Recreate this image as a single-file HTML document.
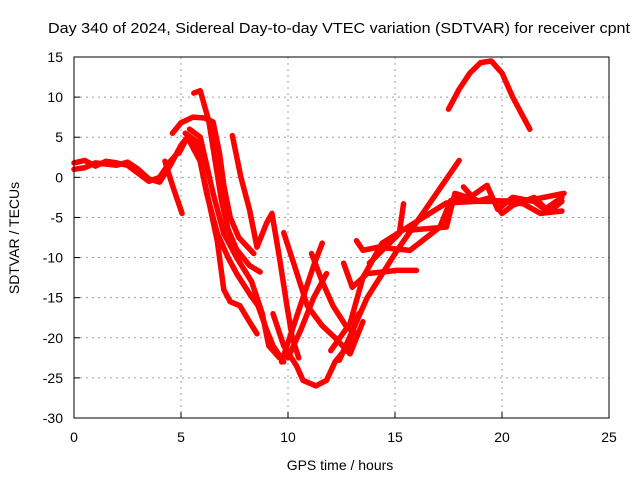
<!DOCTYPE html>
<html><head><meta charset="utf-8"><style>
body{margin:0;background:#fff}
svg{display:block;font-family:"Liberation Sans",sans-serif}
</style></head><body>
<svg id="chart" width="640" height="480" viewBox="0 0 640 480">
<rect width="640" height="480" fill="#fff"/>
<text x="339" y="33" font-size="15" text-anchor="middle" textLength="582" lengthAdjust="spacingAndGlyphs">Day 340 of 2024, Sidereal Day-to-day VTEC variation (SDTVAR) for receiver cpnt</text>
<g id="grid"></g>
<g id="series"></g>
<rect x="74" y="57" width="535" height="361" fill="none" stroke="#000" stroke-width="1"/>
<g id="ticks"></g>
<text x="340" y="470" font-size="14" text-anchor="middle">GPS time / hours</text>
<text transform="translate(19,238) rotate(-90)" font-size="14" text-anchor="middle">SDTVAR / TECUs</text>
</svg>
<script>
const xTicks=[0,5,10,15,20,25];
const yTicks=[15,10,5,0,-5,-10,-15,-20,-25,-30];
const s1=[[0,1.8],[0.5,2.1],[1,1.4],[1.5,2],[2,1.8],[2.5,1.5],[3,0.5],[3.5,-0.5],[4,0],[4.5,2],[5,3.5]];
const s2=[[0,1],[0.5,1.2],[1,1.8],[2,1.5],[2.5,1.9],[3,1],[3.5,-0.2],[4,-0.6],[4.5,1.5],[5,4],[5.3,5]];
const s3=[[4.25,2],[4.6,-1],[5.05,-4.5]];
const s4=[[4.6,5.5],[5,6.8],[5.56,7.5],[6.1,7.4],[6.5,6.9],[6.8,3],[7,-1],[7.3,-5],[7.7,-7.5],[8.4,-9.5]];
const s5=[[5.6,10.5],[5.9,10.8],[6.3,7],[6.6,2],[6.9,-3],[7.2,-6.5],[7.6,-9],[8.2,-11],[8.7,-11.8]];
const s6=[[4.9,3],[5.3,5],[5.9,2],[6.3,-3],[6.7,-8],[7,-14],[7.3,-15.5],[7.75,-16],[8.2,-18],[8.55,-19.5]];
const s7=[[5.2,5.5],[5.7,4.5],[6.2,-2],[6.7,-7],[7.2,-10],[7.6,-12],[8.2,-14.5],[8.6,-16],[9,-19],[9.3,-21],[9.8,-23]];
const s8=[[5.4,6],[5.9,5],[6.5,-2],[7,-7],[7.6,-10],[8.3,-13],[8.8,-17],[9.1,-21],[9.6,-22.5]];
const s9=[[7.4,5.2],[7.8,0],[8.2,-4],[8.55,-8.7],[9,-5.7],[9.25,-4.5],[9.6,-10],[9.95,-16],[10.2,-20],[10.5,-22.5]];
const s10=[[9.8,-6.9],[10.3,-11],[10.9,-16],[11.6,-18.5],[12.2,-20],[12.9,-22],[13.5,-18]];
const s11=[[9.7,-23],[10.2,-19],[10.7,-15],[11.2,-11],[11.6,-8.2]];
const s12=[[11.1,-9.5],[11.6,-13],[12.1,-16],[12.75,-18.7],[13.2,-19.5]];
const s13=[[9.3,-17],[9.8,-21],[10.4,-23.5],[10.7,-25.3],[11.3,-26],[11.8,-25.3],[12.2,-23],[12.8,-21],[13.3,-17]];
const s14=[[10,-22.5],[10.6,-19],[11.2,-15],[11.8,-12]];
const s15=[[12.4,-22.8],[13.7,-15],[15.1,-9.1],[16.5,-3.7],[18,2.1]];
const s16=[[12,-21.6],[12.9,-18.2],[13.5,-12.5],[14.4,-8.2],[15.6,-6.2],[17.4,-3.2],[19.4,-2.9],[21,-3],[22.9,-2]];
const s17=[[13.2,-7.9],[13.5,-9.1],[14.2,-8.7],[15.7,-9.1],[17.1,-6.2],[17.6,-2.9],[18.5,-2.5],[19.3,-1],[19.8,-4],[20.5,-2.5],[21.5,-3],[22,-4],[22.8,-2.5]];
const s18=[[12.6,-10.7],[13,-13.7],[13.7,-12],[15.1,-11.6],[16,-11.6]];
const s19=[[13.8,-10.7],[15.2,-7],[15.4,-3.3]];
const s20=[[15.6,-6.6],[17.4,-6.2],[17.8,-2],[19,-3],[20,-3],[21,-3.3],[21.8,-4.5],[22.8,-4.2]];
const s21=[[18.2,-1.2],[18.8,-3],[19.5,-2.5],[20,-4.5],[20.5,-3.5],[21.5,-2.5],[22.2,-4.3],[22.8,-3]];
const s22=[[17.5,8.5],[18,11],[18.5,13],[19,14.3],[19.5,14.5],[20,13],[20.5,10],[21,7.5],[21.3,6]];
const allSeries=[s1,s2,s3,s4,s5,s6,s7,s8,s9,s10,s11,s12,s13,s14,s15,s16,s17,s18,s19,s20,s21,s22];
const NS="http://www.w3.org/2000/svg";
function xs(h){return 74+(h-0)*(535/25);}
function ys(v){return 57+(15-v)*(361/45);}
const grid=document.getElementById('grid'),ticks=document.getElementById('ticks'),ser=document.getElementById('series');
function mk(tag,attrs,parent){const e=document.createElementNS(NS,tag);for(const k in attrs)e.setAttribute(k,attrs[k]);parent.appendChild(e);return e;}
xTicks.forEach(t=>{const x=xs(t);
 if(t>0&&t<25){const g=mk('line',{x1:x,x2:x,y1:57,y2:418,stroke:'#a0a0a0','stroke-dasharray':'2,4'},grid);
 
 }
 const tl=mk('line',{x1:x,x2:x,y1:418,y2:412,stroke:'#000'},ticks);
 
 
 const tx=mk('text',{x:x,y:442,'font-size':14,'text-anchor':'middle'},ticks);tx.textContent=t;
 
 });
yTicks.forEach(t=>{const y=ys(t);
 if(t<15&&t>-30){const g=mk('line',{x1:74,x2:609,y1:y,y2:y,stroke:'#a0a0a0','stroke-dasharray':'2,4'},grid);
 
 }
 const tl=mk('line',{x1:74,x2:80,y1:y,y2:y,stroke:'#000'},ticks);
 
 
 const tx=mk('text',{x:63,y:y+5,'font-size':14,'text-anchor':'end'},ticks);tx.textContent=t;
 
 });
allSeries.forEach((s,i)=>{
 const p=mk('polyline',{points:s.map(d=>xs(d[0])+','+ys(d[1])).join(' '),fill:'none',stroke:'#ff0000','stroke-width':5.5,'stroke-linejoin':'round','stroke-linecap':'round'},ser);
 
 
});
</script>
</body></html>
